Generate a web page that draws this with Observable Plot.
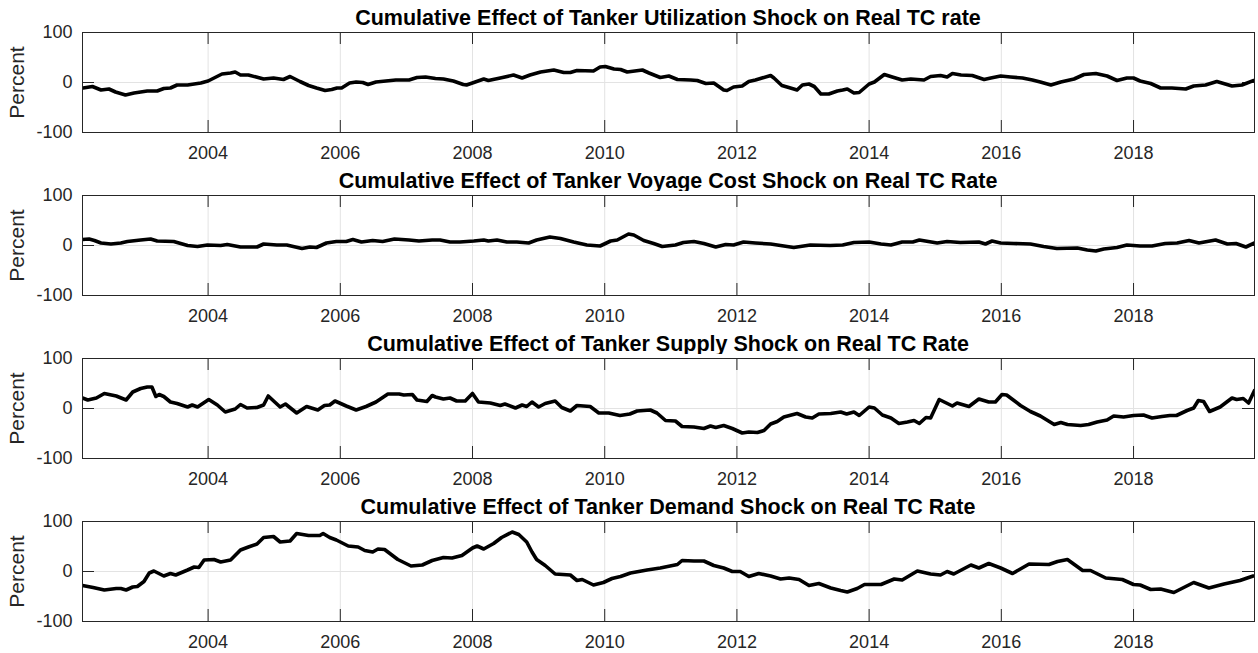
<!DOCTYPE html>
<html><head><meta charset="utf-8">
<script src="https://cdn.jsdelivr.net/npm/d3@7"></script>
<script src="https://cdn.jsdelivr.net/npm/@observablehq/plot@0.6"></script>
<style>
body{margin:0;background:#fff;font-family:"Liberation Sans",Arial,sans-serif;}
#root{width:1258px;height:653px;position:relative;overflow:hidden}
.panel{width:1258px;height:163px;position:relative}
.title{position:absolute;left:82px;width:1172px;top:6px;text-align:center;font-weight:bold;font-size:21.5px;line-height:24px;color:#000;white-space:nowrap}
.panel svg{position:absolute;top:28px;left:0}
</style>
</head><body><div id="root"></div>
<script>
const titles = [
  "Cumulative Effect of Tanker Utilization Shock on Real TC rate",
  "Cumulative Effect of Tanker Voyage Cost Shock on Real TC Rate",
  "Cumulative Effect of Tanker Supply Shock on Real TC Rate",
  "Cumulative Effect of Tanker Demand Shock on Real TC Rate"
];
const xTicks = [2004, 2006, 2008, 2010, 2012, 2014, 2016, 2018];
const yTicks = [-100, 0, 100];
const yLabel = "Percent";

const utilizationYears = [2002.11,2002.25,2002.38,2002.5,2002.6,2002.75,2002.88,2003.08,2003.23,2003.33,2003.43,2003.53,2003.69,2003.89,2004.0,2004.09,2004.21,2004.34,2004.41,2004.49,2004.61,2004.84,2004.99,2005.14,2005.24,2005.39,2005.52,2005.64,2005.77,2005.87,2005.95,2006.02,2006.14,2006.24,2006.34,2006.42,2006.54,2006.69,2006.84,2007.04,2007.16,2007.29,2007.44,2007.56,2007.71,2007.86,2007.91,2008.02,2008.17,2008.24,2008.42,2008.62,2008.75,2008.87,2009.03,2009.23,2009.38,2009.48,2009.58,2009.83,2009.93,2010.01,2010.14,2010.24,2010.34,2010.57,2010.67,2010.84,2010.97,2011.1,2011.3,2011.4,2011.53,2011.65,2011.8,2011.85,2011.95,2012.08,2012.18,2012.28,2012.38,2012.51,2012.56,2012.68,2012.81,2012.91,2012.99,2013.09,2013.17,2013.27,2013.39,2013.52,2013.6,2013.67,2013.77,2013.85,2014.0,2014.08,2014.23,2014.35,2014.5,2014.63,2014.83,2014.93,2015.08,2015.18,2015.26,2015.39,2015.56,2015.74,2015.84,2015.99,2016.14,2016.32,2016.47,2016.59,2016.75,2016.9,2017.1,2017.25,2017.43,2017.6,2017.75,2017.9,2018.0,2018.1,2018.26,2018.41,2018.58,2018.79,2018.91,2019.09,2019.26,2019.49,2019.64,2019.82];
const utilizationValues = [-11,-8,-15,-13,-19,-25,-21,-17,-17,-12,-11,-5,-5,-1,3,9,17,19,21,15,15,7,9,6,12,2,-6,-11,-16,-14,-11,-11,-1,1,0,-4,1,3,5,5,10,11,8,7,3,-4,-5,0,7,4,9,15,9,15,21,25,20,20,24,23,31,32,27,26,21,25,19,10,13,6,5,4,-2,-1,-15,-16,-9,-7,2,5,9,14,9,-6,-11,-15,-5,-3,-8,-23,-23,-17,-15,-13,-21,-20,-3,1,16,11,5,7,5,12,14,11,18,15,14,6,9,13,11,9,5,1,-5,1,7,16,18,13,4,9,9,3,-2,-11,-11,-13,-7,-5,2,-7,-5,4];

const voyageYears = [2002.1,2002.2,2002.28,2002.38,2002.53,2002.68,2002.78,2002.98,2003.13,2003.23,2003.48,2003.69,2003.84,2003.99,2004.19,2004.29,2004.49,2004.74,2004.84,2005.04,2005.19,2005.42,2005.54,2005.64,2005.79,2005.94,2006.09,2006.19,2006.32,2006.49,2006.64,2006.82,2007.04,2007.19,2007.39,2007.51,2007.66,2007.81,2008.02,2008.17,2008.24,2008.37,2008.52,2008.67,2008.85,2008.97,2009.17,2009.33,2009.53,2009.73,2009.93,2010.09,2010.19,2010.36,2010.44,2010.59,2010.74,2010.87,2011.07,2011.19,2011.35,2011.5,2011.68,2011.83,2011.95,2012.1,2012.28,2012.51,2012.66,2012.86,2012.96,2013.11,2013.41,2013.6,2013.77,2014.0,2014.18,2014.33,2014.5,2014.66,2014.76,2015.03,2015.18,2015.38,2015.66,2015.76,2015.86,2015.99,2016.19,2016.44,2016.64,2016.84,2017.15,2017.3,2017.43,2017.55,2017.75,2017.9,2018.1,2018.28,2018.48,2018.66,2018.84,2018.99,2019.24,2019.42,2019.55,2019.7,2019.83];
const voyageValues = [12,13,10,5,3,5,8,11,13,9,8,0,-2,1,0,2,-3,-3,3,1,1,-6,-3,-4,5,8,8,12,7,10,8,13,11,9,11,11,7,7,9,11,9,11,7,7,5,11,17,14,7,1,-1,9,11,23,21,10,4,-2,1,6,8,4,-3,2,1,7,5,3,0,-4,-2,1,0,1,6,7,3,1,7,7,11,5,8,6,7,3,9,5,4,3,-2,-6,-5,-9,-11,-7,-4,1,-1,-1,4,5,10,5,11,3,4,-3,5];

const supplyYears = [2002.1,2002.18,2002.31,2002.43,2002.61,2002.76,2002.86,2002.98,2003.08,2003.15,2003.21,2003.26,2003.33,2003.43,2003.53,2003.69,2003.76,2003.84,2004.01,2004.14,2004.26,2004.41,2004.49,2004.59,2004.74,2004.84,2004.91,2005.09,2005.17,2005.34,2005.49,2005.66,2005.76,2005.84,2005.92,2006.09,2006.24,2006.39,2006.54,2006.72,2006.89,2006.96,2007.09,2007.16,2007.31,2007.39,2007.44,2007.56,2007.66,2007.76,2007.89,2008.0,2008.09,2008.27,2008.42,2008.49,2008.65,2008.75,2008.82,2008.9,2009.0,2009.1,2009.25,2009.35,2009.48,2009.58,2009.78,2009.91,2010.06,2010.23,2010.38,2010.49,2010.69,2010.79,2010.92,2011.07,2011.17,2011.35,2011.5,2011.6,2011.68,2011.8,2011.93,2012.08,2012.18,2012.31,2012.41,2012.51,2012.61,2012.71,2012.91,2013.04,2013.14,2013.24,2013.42,2013.57,2013.66,2013.77,2013.85,2014.0,2014.08,2014.2,2014.33,2014.45,2014.58,2014.68,2014.76,2014.86,2014.93,2015.06,2015.26,2015.33,2015.51,2015.66,2015.81,2015.91,2016.01,2016.08,2016.29,2016.44,2016.59,2016.8,2016.9,2017.0,2017.2,2017.32,2017.45,2017.6,2017.7,2017.85,2018.0,2018.15,2018.28,2018.43,2018.55,2018.65,2018.81,2018.91,2018.98,2019.06,2019.15,2019.31,2019.49,2019.56,2019.66,2019.74,2019.83];
const supplyValues = [21,17,21,30,25,17,33,40,43,43,24,28,24,13,10,3,7,3,18,7,-7,-1,8,1,2,7,25,3,9,-9,4,-3,6,7,15,5,-3,4,13,29,29,27,28,17,14,26,23,19,21,15,15,30,13,11,6,9,1,7,4,13,3,10,15,2,-5,6,4,-9,-9,-14,-11,-5,-3,-9,-24,-25,-36,-37,-40,-35,-38,-34,-40,-49,-47,-48,-44,-31,-26,-17,-10,-17,-19,-11,-10,-7,-11,-7,-14,3,1,-13,-19,-30,-27,-24,-30,-18,-19,18,5,11,4,19,13,13,28,27,6,-6,-15,-32,-28,-32,-34,-32,-27,-23,-15,-17,-14,-13,-19,-16,-14,-14,-4,1,16,14,-6,3,21,18,20,11,36];

const demandYears = [2002.1,2002.26,2002.43,2002.61,2002.68,2002.76,2002.86,2002.93,2003.03,2003.11,2003.18,2003.33,2003.43,2003.51,2003.69,2003.79,2003.86,2003.94,2004.09,2004.19,2004.34,2004.49,2004.61,2004.74,2004.84,2004.99,2005.09,2005.24,2005.34,2005.52,2005.69,2005.74,2005.84,2005.94,2006.12,2006.27,2006.37,2006.49,2006.57,2006.67,2006.87,2007.07,2007.24,2007.39,2007.56,2007.69,2007.84,2008.0,2008.07,2008.17,2008.32,2008.44,2008.6,2008.7,2008.82,2008.9,2008.97,2009.1,2009.25,2009.48,2009.58,2009.66,2009.83,2009.98,2010.11,2010.24,2010.39,2010.64,2010.84,2011.1,2011.17,2011.35,2011.5,2011.65,2011.8,2011.93,2012.05,2012.18,2012.33,2012.51,2012.66,2012.79,2012.94,2013.09,2013.24,2013.42,2013.57,2013.67,2013.82,2013.93,2014.18,2014.38,2014.5,2014.73,2014.93,2015.08,2015.18,2015.28,2015.54,2015.66,2015.81,2015.99,2016.17,2016.42,2016.72,2016.85,2017.0,2017.23,2017.35,2017.58,2017.83,2018.0,2018.1,2018.26,2018.41,2018.61,2018.76,2018.91,2019.14,2019.37,2019.61,2019.81];
const demandValues = [-28,-32,-37,-34,-34,-37,-31,-30,-20,-3,1,-9,-4,-7,3,9,8,23,24,19,23,43,49,55,68,70,59,61,76,72,72,76,68,63,51,49,42,39,45,44,24,11,13,22,28,27,32,47,51,45,56,68,79,74,59,39,24,12,-5,-7,-18,-16,-27,-22,-14,-10,-3,3,7,14,22,21,21,12,7,0,0,-10,-4,-9,-15,-13,-16,-28,-24,-33,-38,-41,-34,-26,-26,-15,-17,1,-5,-7,0,-5,13,7,16,7,-4,15,14,20,24,2,2,-13,-16,-26,-27,-36,-35,-42,-32,-22,-33,-25,-18,-9];

const series = [
  [utilizationYears, utilizationValues],
  [voyageYears, voyageValues],
  [supplyYears, supplyValues],
  [demandYears, demandValues]
];

const xDomain = [2002.1, 2019.83];
const axisColor = "#262626";
const root = document.getElementById("root");

series.forEach(([xs, ys], i) => {
  const data = xs.map((x, k) => ({x, y: ys[k]}));
  const panel = document.createElement("div");
  panel.className = "panel";
  const t = document.createElement("div");
  t.className = "title";
  t.textContent = titles[i];
  panel.appendChild(t);
  const tickLen = 12 / (1172 / (xDomain[1] - xDomain[0]));
  const chart = Plot.plot({
    width: 1258,
    height: 135,
    marginTop: 4,
    marginBottom: 31,
    marginLeft: 82,
    marginRight: 4,
    style: {fontFamily: "'Liberation Sans', Arial, sans-serif", fontSize: "18px", color: axisColor, background: "white", overflow: "visible"},
    x: {domain: xDomain},
    y: {domain: [-100, 100]},
    marks: [
      Plot.gridX(xTicks, {stroke: "#e3e3e3", strokeOpacity: 1}),
      Plot.gridY([0], {stroke: "#e3e3e3", strokeOpacity: 1}),
      Plot.ruleX(xTicks, {y1: -100, y2: -76, stroke: axisColor}),
      Plot.ruleX(xTicks, {y1: 100, y2: 76, stroke: axisColor}),
      Plot.ruleY([0], {x1: xDomain[0], x2: xDomain[0] + tickLen, stroke: axisColor}),
      Plot.ruleY([0], {x1: xDomain[1] - tickLen, x2: xDomain[1], stroke: axisColor}),
      Plot.line(data, {x: "x", y: "y", stroke: "black", strokeWidth: 3.6, strokeLinejoin: "round", clip: true}),
      Plot.frame({stroke: axisColor}),
      Plot.axisX(xTicks, {tickSize: 0, tickPadding: 14, tickFormat: d => String(d), fontSize: 18, label: null}),
      Plot.axisY(yTicks, {tickSize: 0, tickPadding: 10, tickFormat: d => String(d), fontSize: 18, label: null}),
      Plot.text([yLabel], {frameAnchor: "left", textAnchor: "middle", lineAnchor: "middle", rotate: -90, dx: -65, fontSize: 21, fill: axisColor})
    ]
  });
  panel.appendChild(chart);
  root.appendChild(panel);
});
</script>
</body></html>
